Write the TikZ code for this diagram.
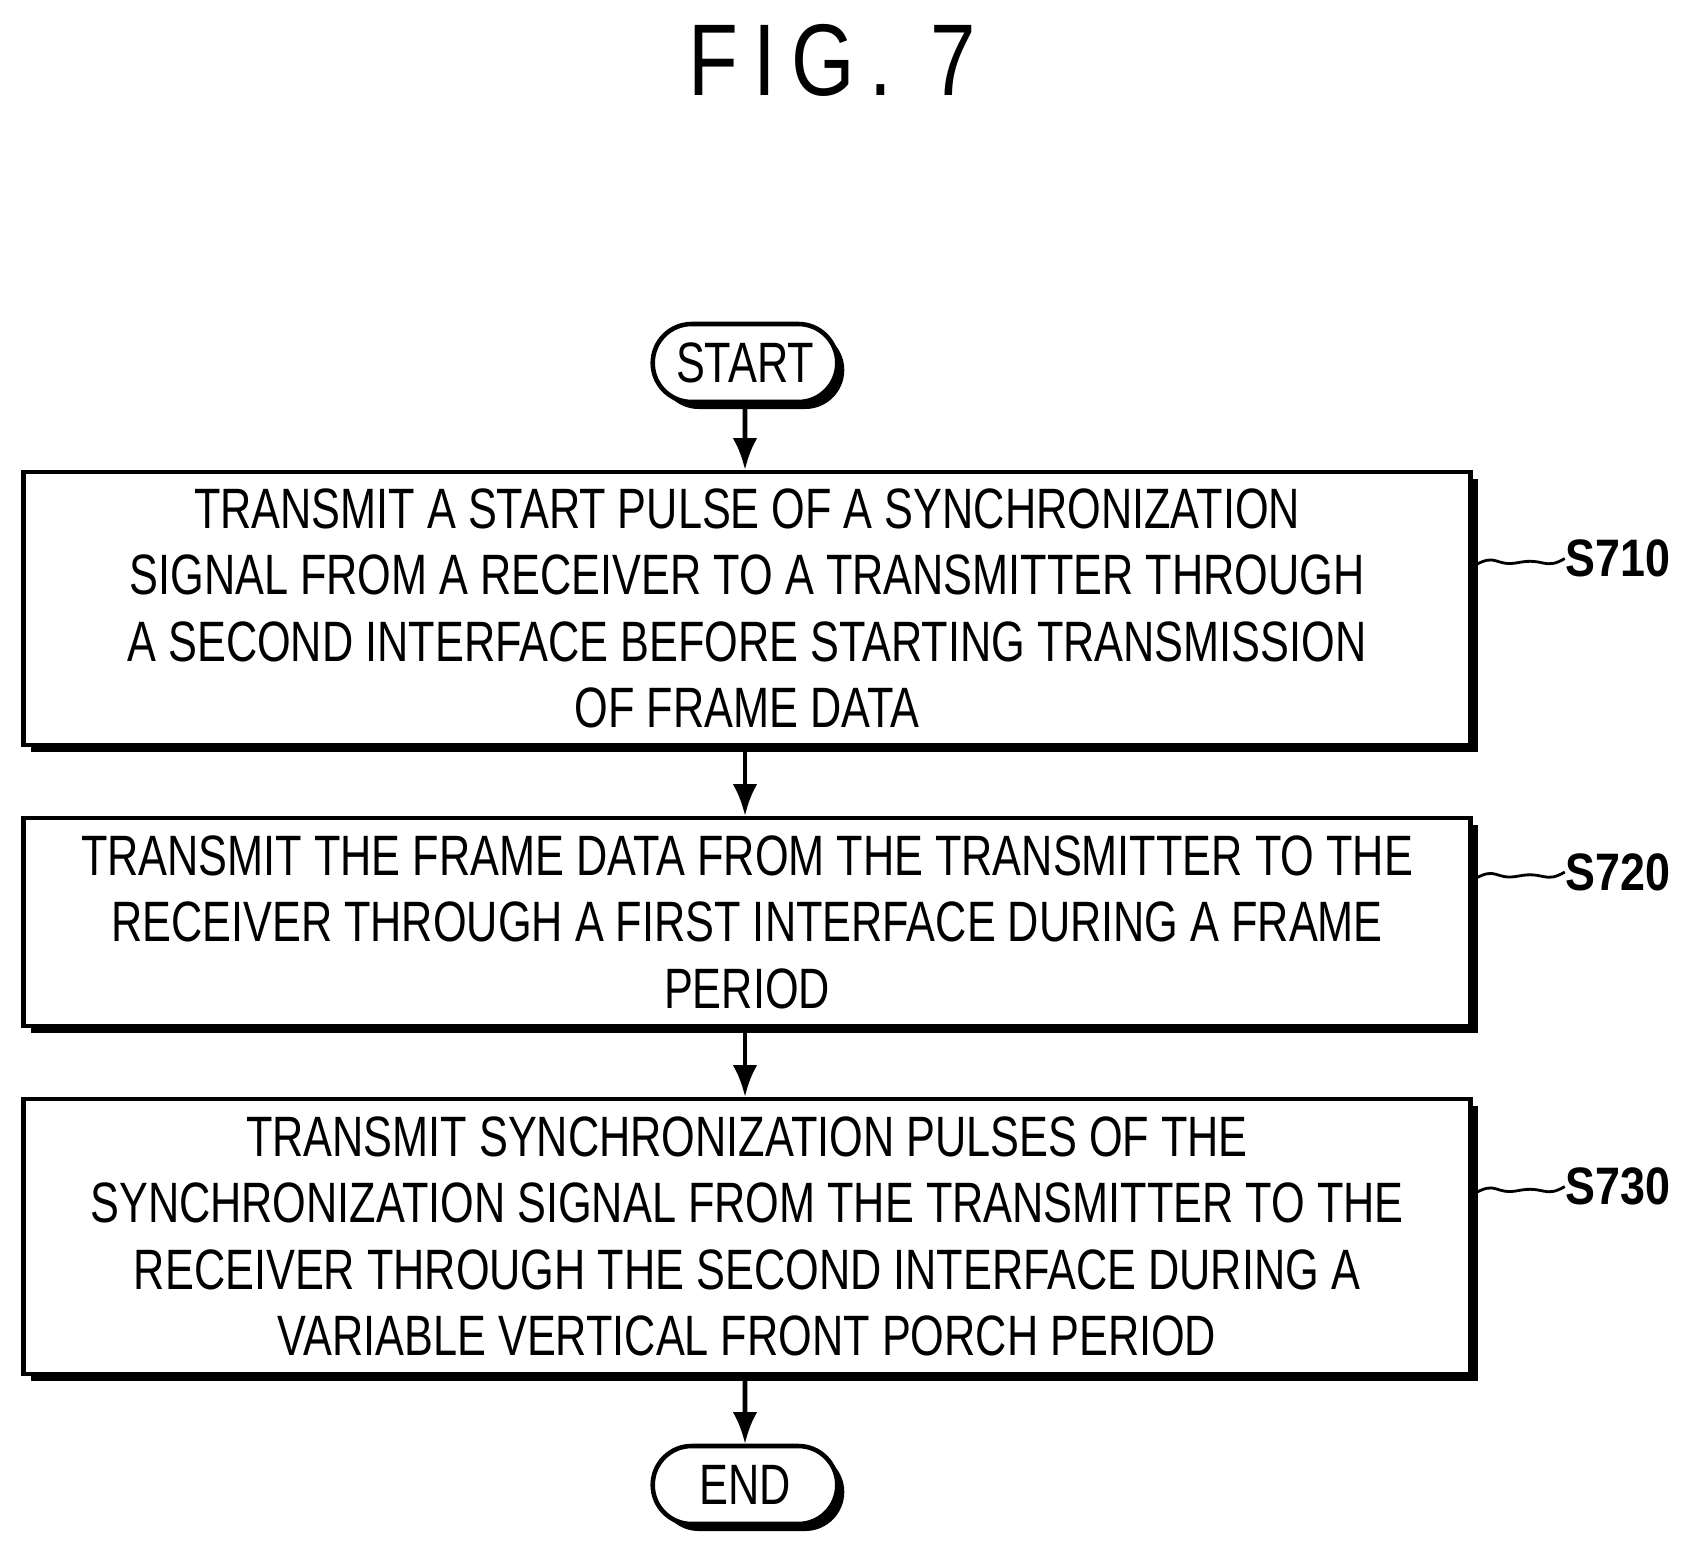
\documentclass[tikz,border=0pt]{standalone}
\usepackage{fontspec}
\setmainfont{Liberation Sans}
\newfontfamily\patfont[FakeStretch=0.76]{Liberation Sans}
\newfontfamily\figfont[FakeStretch=0.8,LetterSpace=15]{Liberation Sans}
\newfontfamily\labfont[FakeStretch=0.85]{Liberation Sans}
\usetikzlibrary{arrows.meta, calc, shapes.misc, shadows}
\tikzset{
  % flowchart styles
  fc-step/.style={rectangle, draw=black, line width=1.3pt, fill=white, minimum width=14.47cm,
    align=center, font=\patfont\fontsize{16.2}{18.9}\selectfont,
    drop shadow={shadow xshift=0.07cm, shadow yshift=-0.07cm, fill=black, opacity=1}},
  fc-term/.style={rounded rectangle, draw=black, line width=1.3pt, fill=white, minimum width=2.08cm,
    minimum height=0.78cm, font=\patfont\fontsize{16.2}{18.9}\selectfont,
    drop shadow={shadow xshift=0.07cm, shadow yshift=-0.07cm, fill=black, opacity=1}},
  fc-arrow/.style={-{Latex[length=9pt,width=7pt]}, line width=1.3pt},
  fc-label/.style={font=\labfont\bfseries\fontsize{15}{18}\selectfont, anchor=west, inner sep=0pt},
  fc-wave/.style={line width=0.8pt}
}
\begin{document}
\begin{tikzpicture}
    \useasboundingbox (0,0) rectangle (16.85,-15.41);
    % --- Title ---
    \node[font=\figfont\fontsize{29}{34}\selectfont] (title) at (8.32,-0.6) {FIG.\ 7};

    % --- Steps ---
    \node[fc-term] (start) at (7.45,-3.63) {START};
    \node[fc-step, minimum height=2.73cm] (s710) at (7.47,-6.085)
      {TRANSMIT A START PULSE OF A SYNCHRONIZATION\\SIGNAL FROM A RECEIVER TO A TRANSMITTER THROUGH\\A SECOND INTERFACE BEFORE STARTING TRANSMISSION\\OF FRAME DATA};
    \node[fc-step, minimum height=2.08cm] (s720) at (7.47,-9.22)
      {TRANSMIT THE FRAME DATA FROM THE TRANSMITTER TO THE\\RECEIVER THROUGH A FIRST INTERFACE DURING A FRAME\\PERIOD};
    \node[fc-step, minimum height=2.75cm] (s730) at (7.47,-12.365)
      {TRANSMIT SYNCHRONIZATION PULSES OF THE\\SYNCHRONIZATION SIGNAL FROM THE TRANSMITTER TO THE\\RECEIVER THROUGH THE SECOND INTERFACE DURING A\\VARIABLE VERTICAL FRONT PORCH PERIOD};
    \node[fc-term] (end) at (7.45,-14.85) {END};

    % --- Arrows ---
    \draw[fc-arrow] (start) -- (start |- s710.north);
    \draw[fc-arrow] (s710.south -| start) -- (start |- s720.north);
    \draw[fc-arrow] (s720.south -| start) -- (start |- s730.north);
    \draw[fc-arrow] (s730.south -| start) -- (end);

    % --- Step labels ---
    \foreach \s in {710,720,730} {
      \node[fc-label] (l\s) at ([xshift=0.92cm, yshift=0.5cm]s\s.east) {S\s};
      \draw[fc-wave] ([yshift=0.42cm]s\s.east) .. controls +(0.25,0.15) and +(-0.25,-0.05) .. ($([yshift=0.42cm]s\s.east)!0.5!(l\s.west)$)
        .. controls +(0.25,0.05) and +(-0.2,-0.12) .. (l\s.west);
    }
\end{tikzpicture}
\end{document}
